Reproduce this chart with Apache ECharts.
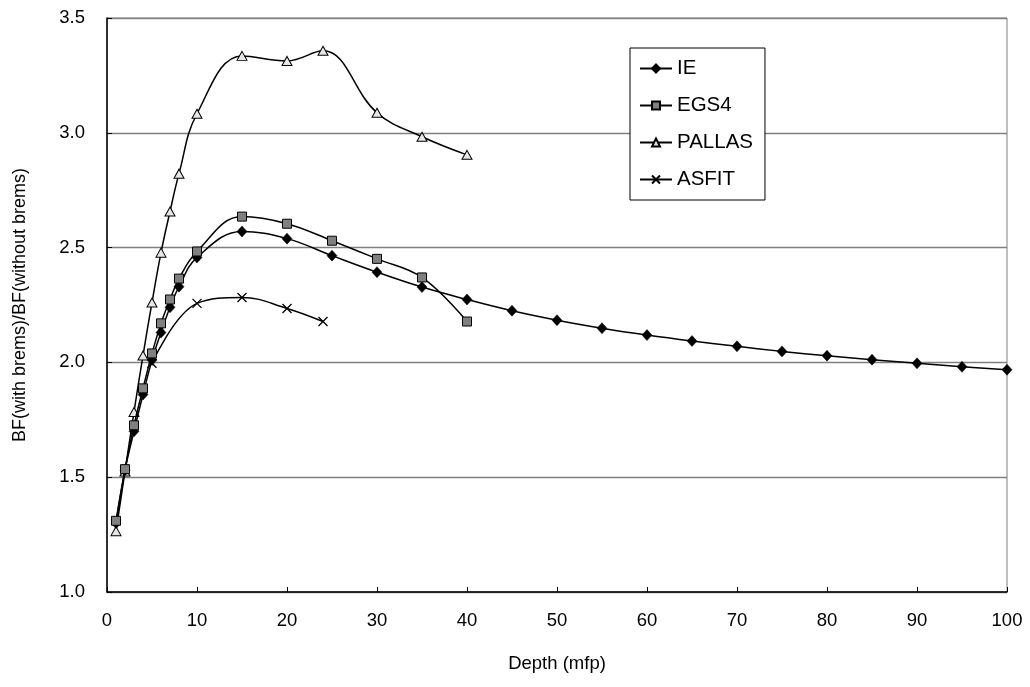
<!DOCTYPE html>
<html>
<head>
<meta charset="utf-8">
<script src="https://cdn.jsdelivr.net/npm/echarts@6/dist/echarts.min.js"></script>
<style>
html,body{margin:0;padding:0;background:#fff;}
#chart{width:1030px;height:687px;}
</style>
</head>
<body>
<div id="chart"></div>
<script>
// Data
const xTicks = [0,10,20,30,40,50,60,70,80,90,100];
const yTicks = [1.0,1.5,2.0,2.5,3.0,3.5];

const ieDepth = [1,2,3,4,5,6,7,8,10,15,20,25,30,35,40,45,50,55,60,65,70,75,80,85,90,95,100];
const ieValue = [1.30,1.53,1.70,1.86,2.01,2.13,2.24,2.33,2.457,2.57,2.539,2.465,2.393,2.328,2.274,2.225,2.184,2.149,2.119,2.093,2.070,2.048,2.029,2.012,1.996,1.981,1.968];

const egsDepth = [1,2,3,4,5,6,7,8,10,15,20,25,30,35,40];
const egsValue = [1.31,1.535,1.726,1.887,2.039,2.170,2.274,2.365,2.483,2.635,2.604,2.530,2.451,2.370,2.178];

const pallasDepth = [1,2,3,4,5,6,7,8,10,15,20,24,30,35,40];
const pallasValue = [1.265,1.525,1.784,2.030,2.261,2.478,2.657,2.822,3.083,3.335,3.313,3.357,3.087,2.983,2.904];

const asfitDepth = [5,10,15,20,24];
const asfitValue = [1.996,2.257,2.283,2.235,2.178];

const seriesNames = ['IE','EGS4','PALLAS','ASFIT'];

function pairs(xs, ys){ return xs.map((x,i)=>[x, ys[i]]); }

const FONT = "'Liberation Sans', Arial, sans-serif";
const chart = echarts.init(document.getElementById('chart'));

const lineBase = {
  type: 'line',
  smooth: 0.4,
  lineStyle: {color:'#000', width: 1.5},
  emphasis: {disabled: true},
  z: 3
};

chart.setOption({
  animation: false,
  backgroundColor: '#fff',
  textStyle: {fontFamily: FONT, color:'#000'},
  grid: {left:107, right:23, top:18, bottom:95, show:true, borderColor:'#808080', borderWidth:1, containLabel:false},
  xAxis: {
    type:'value', min: xTicks[0], max: xTicks[xTicks.length-1], interval: 10,
    name: 'Depth (mfp)', nameLocation:'middle', nameGap: 62,
    nameTextStyle: {fontSize:18.5, color:'#000', fontFamily: FONT},
    axisLine: {show:true, lineStyle:{color:'#000', width:1.5}},
    axisTick: {show:true, inside:true, length:5, lineStyle:{color:'#000', width:1}},
    axisLabel: {fontSize:18.5, color:'#000', margin:19, fontFamily: FONT},
    splitLine: {show:false}
  },
  yAxis: {
    type:'value', min: yTicks[0], max: yTicks[yTicks.length-1], interval: 0.5,
    name: 'BF(with brems)/BF(without brems)', nameLocation:'middle', nameGap: 78,
    nameTextStyle: {fontSize:18, color:'#000', fontFamily: FONT},
    axisLine: {show:true, lineStyle:{color:'#000', width:1.5}},
    axisTick: {show:true, inside:true, length:5, lineStyle:{color:'#000', width:1}},
    axisLabel: {fontSize:18.5, color:'#000', margin:22, fontFamily: FONT, formatter: v => v.toFixed(1)},
    splitLine: {show:true, lineStyle:{color:'#808080', width:1.3}}
  },
  legend: {
    orient:'vertical', left:630, top:48,
    data: seriesNames,
    backgroundColor:'#fff', borderColor:'#000', borderWidth:1,
    padding:[10,12,10,9],
    itemWidth:32, itemHeight:10, itemGap:16,
    textStyle:{fontSize:20.5, color:'#000', fontFamily: FONT, lineHeight:21},
    selectedMode:false
  },
  series: [
    Object.assign({}, lineBase, {
      name: seriesNames[0], data: pairs(ieDepth, ieValue),
      symbol:'diamond', symbolSize:[10,11],
      itemStyle:{color:'#000', borderColor:'#000', borderWidth:0.5}, z:4
    }),
    Object.assign({}, lineBase, {
      name: seriesNames[1], data: pairs(egsDepth, egsValue),
      symbol:'rect', symbolSize:9,
      itemStyle:{color:'#808080', borderColor:'#000', borderWidth:1}, z:5
    }),
    Object.assign({}, lineBase, {
      name: seriesNames[2], data: pairs(pallasDepth, pallasValue),
      symbol:'triangle', symbolSize:[10,9],
      itemStyle:{color:'#e6e6e6', borderColor:'#000', borderWidth:1}, z:3
    }),
    Object.assign({}, lineBase, {
      name: seriesNames[3], data: pairs(asfitDepth, asfitValue),
      symbol:'path://M0,0L10,10M10,0L0,10', symbolSize:9,
      itemStyle:{color:'#000', borderColor:'#000', borderWidth:1.3}, z:3
    })
  ]
});
</script>
</body>
</html>
